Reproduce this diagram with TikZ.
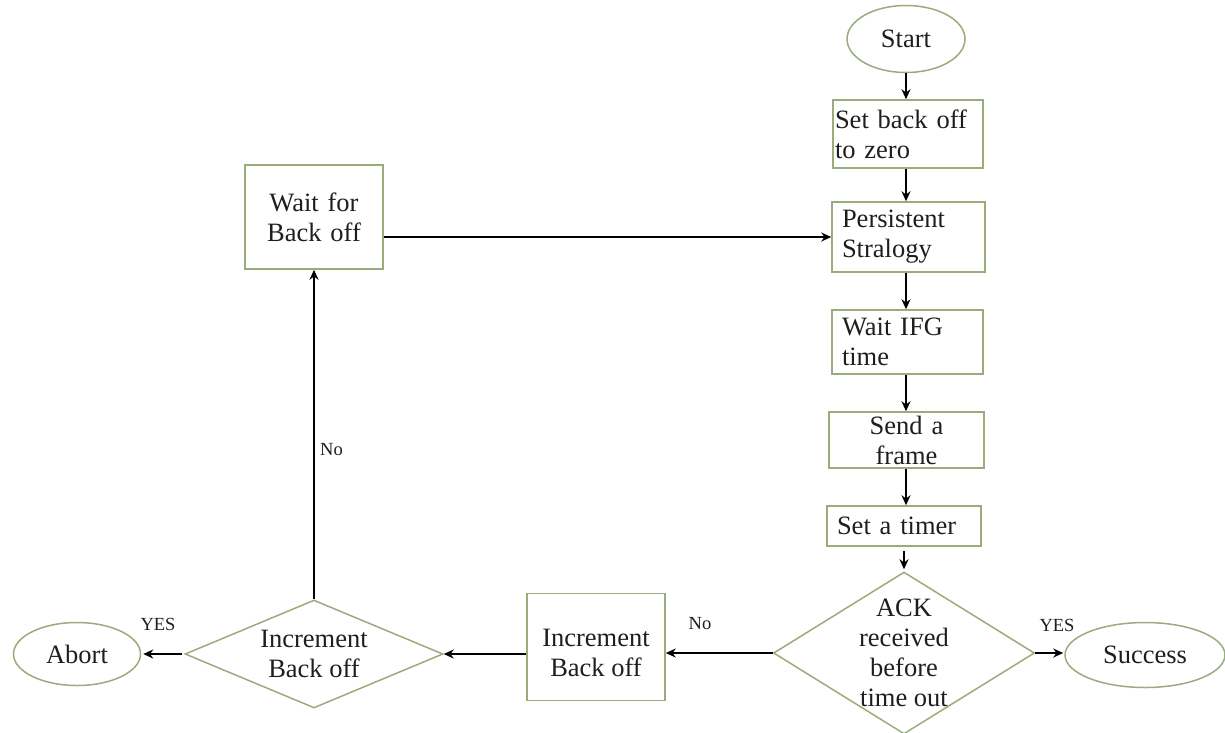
\documentclass[tikz,border=0pt]{standalone}
\usepackage{fontspec}
\setmainfont{Liberation Serif}
\usetikzlibrary{shapes.geometric,arrows.meta}
\definecolor{frame}{RGB}{152,172,124}
\definecolor{ink}{RGB}{30,30,30}
\tikzset{
  body/.style={font=\fontsize{26.5}{30}\selectfont, text=ink},
  box/.style={body, draw=frame, line width=1.5pt, inner ysep=0pt},
  term/.style={body, ellipse, draw=frame, line width=1.5pt, inner sep=0pt},
  dec/.style={diamond, draw=frame, line width=1.5pt, inner sep=0pt},
  flow/.style={draw=black, line width=2.6pt, -{Stealth[length=10pt,width=9pt]}},
  tag/.style={font=\fontsize{18.5}{20}\selectfont, text=ink, inner sep=0pt}
}
\begin{document}
\begin{tikzpicture}[x=1pt,y=-1pt]
\useasboundingbox (0,0) rectangle (1225,732);

% right-hand column
\node[term, minimum width=118, minimum height=67] (start) at (906,39) {Start};
\node[box, text width=146, inner xsep=2pt, minimum height=68, align=left] (setb) at (908,134) {Set back off\\to zero};
\node[box, text width=133, inner xsep=10pt, minimum height=70, align=left] (pers) at (908.5,237) {Persistent\\Stralogy};
\node[box, text width=131, inner xsep=10pt, minimum height=64, align=left] (wifg) at (907.5,342) {Wait IFG\\time};
\node[box, text width=145, inner xsep=5pt, minimum height=56, align=center] (send) at (906.5,440) {Send a\\frame};
\node[box, text width=134, inner xsep=10pt, minimum height=40, align=left] (timer) at (904,526) {Set a timer};

\node[dec, minimum width=261, minimum height=162] (ack) at (904,653) {};
\node[body, align=center, inner sep=0pt] (acktext) at (904,653) {ACK\\received\\before\\time out};

\node[term, minimum width=160, minimum height=65] (succ) at (1145,655) {Success};

% bottom row
\node[box, minimum width=138, minimum height=107] (inc) at (596,647) {};
\node[body, align=center, inner sep=0pt] (inctext) at (596,653) {Increment\\Back off};
\node[dec, minimum width=258, minimum height=108] (lim) at (314,654) {};
\node[body, align=center, inner sep=0pt] (limtext) at (314,654) {Increment\\Back off};
\node[term, minimum width=127, minimum height=63] (abort) at (77,654) {Abort};

% retry box
\node[box, text width=128, inner xsep=5pt, minimum height=104, align=center] (wait) at (314,217) {Wait for\\Back off};

% connectors
\draw[flow] (start.south) -- (setb.north -| start.south);
\draw[flow] (setb.south -| start.south) -- (pers.north -| start.south);
\draw[flow] (pers.south -| start.south) -- (wifg.north -| start.south);
\draw[flow] (wifg.south -| start.south) -- (send.north -| start.south);
\draw[flow] (send.south -| start.south) -- (timer.north -| start.south);
\draw[flow, shorten <=4pt, shorten >=2pt] (timer.south -| ack.north) -- (ack.north);
\draw[flow, shorten >=1pt] (ack.east) -- (succ.west |- ack.east);
\draw[flow] (ack.west) -- (inc.east |- ack.west);
\draw[flow] (inc.west |- lim.east) -- (lim.east);
\draw[flow, shorten <=2pt, shorten >=2pt] (lim.west) -- (abort.east);
\draw[flow] (lim.north) -- (wait.south);
\draw[flow] (wait.east |- pers.west) -- (pers.west);

% branch labels
\node[tag] (yes1) at (1057,625) {YES};
\node[tag] (no1) at (700,624) {No};
\node[tag] (yes2) at (158,624) {YES};
\node[tag, anchor=west] (no2) at (320,450) {No};
\end{tikzpicture}
\end{document}
